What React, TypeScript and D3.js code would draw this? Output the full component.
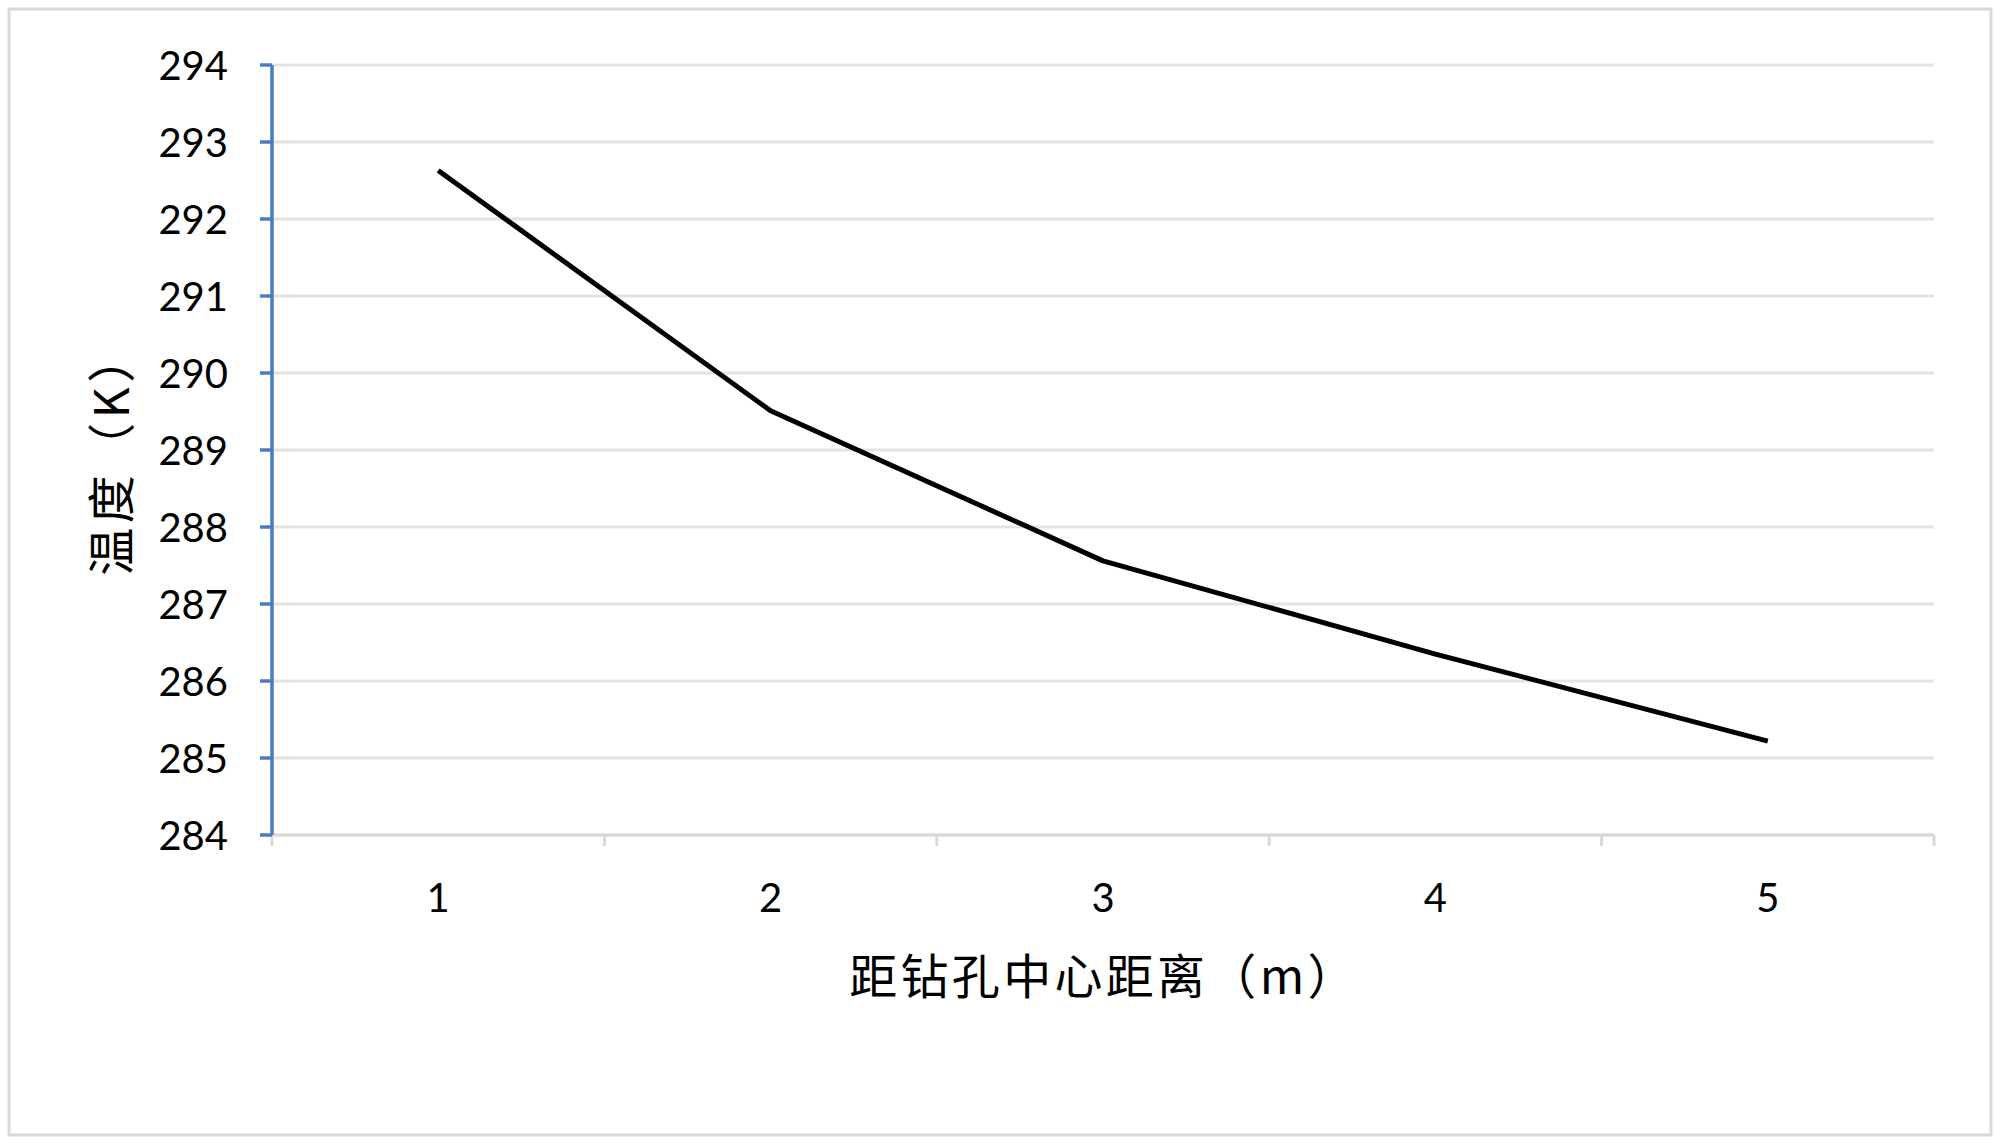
import React from "react";
import * as d3 from "d3";

const categories = ["1", "2", "3", "4", "5"];
const temperatures = [292.63, 289.51, 287.56, 286.35, 285.22];
const yTicks = [284, 285, 286, 287, 288, 289, 290, 291, 292, 293, 294];
const xTitle = "距钻孔中心距离（m）";
const yTitle = "温度（K）";

const W = 2000;
const H = 1145;
const M = { left: 272, right: 1934, top: 65, bottom: 835 };

export default function App() {
  const x = d3.scaleBand<string>().domain(categories).range([M.left, M.right]);
  const y = d3.scaleLinear().domain([284, 294]).range([M.bottom, M.top]);
  const line = d3
    .line<number>()
    .x((_, i) => (x(categories[i]) as number) + x.bandwidth() / 2)
    .y((d) => y(d));
  const numFont = "Lato, 'Open Sans', sans-serif";
  const cjkFont = "'Noto Sans CJK SC', sans-serif";
  const grid = "#e3e3e3";
  const xTickPos = [...categories.map((c) => x(c) as number), M.right];

  return (
    <svg
      width={W}
      height={H}
      style={{ position: "absolute", left: 0, top: 0, background: "#fff" }}
    >
      <rect x={0} y={0} width={W} height={H} fill="#fff" />
      <rect x={9} y={9} width={1982} height={1126} fill="#fff" stroke="#d9d9d9" strokeWidth={3} />
      {yTicks.map((t) => (
        <line key={"g" + t} x1={M.left} x2={M.right} y1={y(t)} y2={y(t)} stroke={grid} strokeWidth={3} />
      ))}
      {/* x axis */}
      <line x1={M.left} x2={M.right} y1={M.bottom} y2={M.bottom} stroke="#d9d9d9" strokeWidth={3} />
      {xTickPos.map((p, i) => (
        <line key={"xt" + i} x1={p} x2={p} y1={M.bottom} y2={M.bottom + 11} stroke="#d9d9d9" strokeWidth={3} />
      ))}
      {categories.map((c) => (
        <text
          key={"xl" + c}
          x={(x(c) as number) + x.bandwidth() / 2}
          y={897}
          textAnchor="middle"
          dominantBaseline="central"
          fontFamily={numFont}
          fontSize={40}
          fill="#000"
        >
          {c}
        </text>
      ))}
      {/* y axis */}
      <line x1={M.left} x2={M.left} y1={M.top} y2={M.bottom} stroke="#4a7cc4" strokeWidth={3.5} />
      {yTicks.map((t) => (
        <g key={"yt" + t}>
          <line x1={M.left - 12} x2={M.left} y1={y(t)} y2={y(t)} stroke="#4a7cc4" strokeWidth={3.5} />
          <text
            x={228}
            y={y(t)}
            textAnchor="end"
            dominantBaseline="central"
            fontFamily={numFont}
            fontSize={40}
            fill="#000"
          >
            {t}
          </text>
        </g>
      ))}
      <path d={line(temperatures) || ""} fill="none" stroke="#000" strokeWidth={5} strokeLinejoin="round" />
      <text
        x={1104}
        y={973}
        textAnchor="middle"
        dominantBaseline="central"
        fontFamily={cjkFont}
        fontSize={48}
        letterSpacing={3.3}
        fill="#000"
      >
        {xTitle}
      </text>
      <text
        transform={`translate(108,453) rotate(-90)`}
        textAnchor="middle"
        dominantBaseline="central"
        fontFamily={cjkFont}
        fontSize={48}
        letterSpacing={4.5}
        fill="#000"
      >
        {yTitle}
      </text>
    </svg>
  );
}
